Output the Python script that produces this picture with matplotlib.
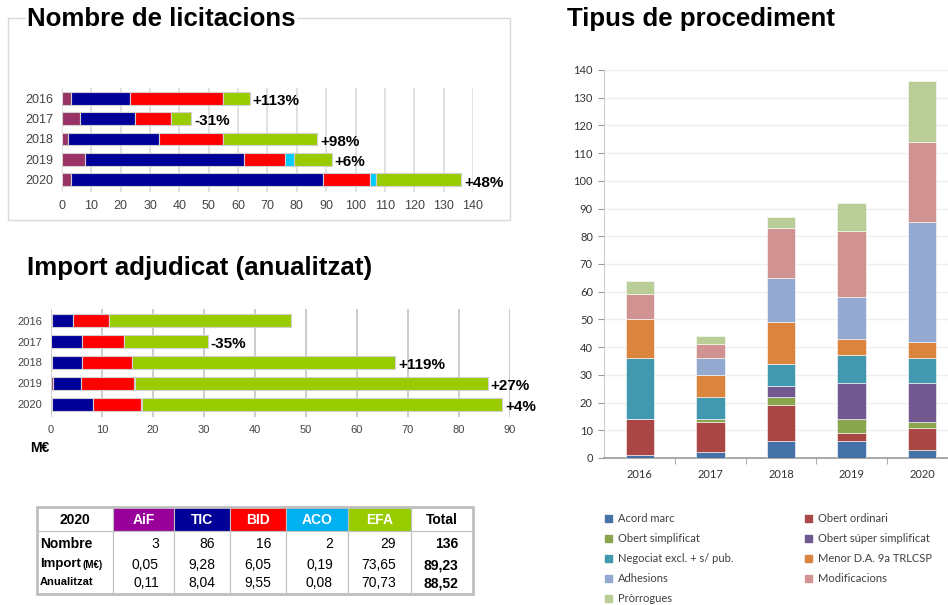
import matplotlib
matplotlib.use("Agg")
import matplotlib.pyplot as plt
from matplotlib.patches import Rectangle
import numpy as np

# Data
years = ["2016", "2017", "2018", "2019", "2020"]
groups = ["AiF", "TIC", "BID", "ACO", "EFA"]

# Nombre de licitacions
lic_aif = [3, 6, 2, 8, 3]
lic_tic = [20, 19, 31, 54, 86]
lic_bid = [32, 12, 22, 14, 16]
lic_aco = [0, 0, 0, 3, 2]
lic_efa = [9, 7, 32, 13, 29]
lic_pct = ["+113%", "-31%", "+98%", "+6%", "+48%"]

# Import adjudicat (anualitzat), M€
imp_aif = [0.1, 0.0, 0.1, 0.4, 0.11]
imp_tic = [4.2, 6.0, 5.9, 5.5, 8.04]
imp_bid = [7.0, 8.4, 9.8, 10.4, 9.55]
imp_aco = [0.0, 0.0, 0.0, 0.1, 0.08]
imp_efa = [35.8, 16.4, 51.7, 69.2, 70.73]
imp_pct = ["", "-35%", "+119%", "+27%", "+4%"]

# Tipus de procediment
proc_labels = ["Acord marc", "Obert ordinari", "Obert simplificat",
               "Obert súper simplificat", "Negociat excl. + s/ pub.",
               "Menor D.A. 9a TRLCSP", "Adhesions", "Modificacions",
               "Pròrrogues"]
acord = [1, 2, 6, 6, 3]
ordinari = [13, 11, 13, 3, 8]
simplificat = [0, 1, 3, 5, 2]
super_simpl = [0, 0, 4, 13, 14]
negociat = [22, 8, 8, 10, 9]
menor = [14, 8, 15, 6, 6]
adhesions = [0, 6, 16, 15, 43]
modificacions = [9, 5, 18, 24, 29]
prorrogues = [5, 3, 4, 10, 22]

# Taula 2020
tbl_nombre = [3, 86, 16, 2, 29]
tbl_import = [0.05, 9.28, 6.05, 0.19, 73.65]
tbl_anual = [0.11, 8.04, 9.55, 0.08, 70.73]
tbl_totals = [136, 89.23, 88.52]

# Colours
grp_colors = ["#993366", "#000099", "#ff0000", "#00ccff", "#99cc00"]
head_colors = ["#990099", "#000099", "#ff0000", "#00b0f0", "#99cc00"]
proc_colors = ["#4572a7", "#aa4643", "#89a54e", "#71588f", "#4198af",
               "#db843d", "#93a9cf", "#d19392", "#b9cd96"]

W, H = 948, 605
fig = plt.figure(figsize=(W / 100, H / 100), dpi=100)


def px_axes(x0, y0, x1, y1):
    return fig.add_axes([x0 / W, 1 - y1 / H, (x1 - x0) / W, (y1 - y0) / H])


# overlay in pixel coords (titles, box, table)
ov = px_axes(0, 0, W, H)
ov.set_xlim(0, W)
ov.set_ylim(H, 0)
ov.axis("off")

title_kw = dict(fontsize=18.6, fontweight="bold", family="Liberation Sans",
                va="center", ha="left")
ov.add_patch(Rectangle((8, 18), 502, 202, fill=False, ec="#d9d9d9", lw=1))
ov.text(27, 19, "Nombre de licitacions",
        bbox=dict(fc="white", ec="none", pad=1), **title_kw)
ov.text(27, 268, "Import adjudicat (anualitzat)", **title_kw)
ov.text(567, 19, "Tipus de procediment", **title_kw)
ov.text(30, 448, "M€", fontsize=10, fontweight="bold",
        family="Liberation Sans", va="center")


def hbar_chart(ax, series, pct, xmax, step, grid_color, tick_size):
    y = np.arange(len(years))
    left = np.zeros(len(years))
    for vals, col in zip(series, grp_colors):
        ax.barh(y, vals, left=left, height=0.62, color=col,
                edgecolor="#d0d0d0", linewidth=0.8, zorder=3)
        left += np.array(vals)
    for i, lab in enumerate(pct):
        if lab:
            ax.annotate(lab, (left[i], y[i]), xytext=(2, -2),
                        textcoords="offset points", va="center", ha="left",
                        fontsize=11, fontweight="bold",
                        family="Liberation Sans", annotation_clip=False)
    ax.set_xlim(0, xmax)
    ax.set_xticks(np.arange(0, xmax + 1, step))
    ax.set_yticks(y)
    ax.set_yticklabels(years)
    ax.grid(axis="x", color=grid_color, lw=1.2, zorder=0)
    ax.tick_params(length=0, labelsize=tick_size, colors="#444444", pad=6)
    for lbl in ax.get_xticklabels() + ax.get_yticklabels():
        lbl.set_family("Liberation Sans")
    for s in ax.spines.values():
        s.set_visible(False)
    ax.set_facecolor("none")


ax1 = px_axes(62, 88, 473, 192)
hbar_chart(ax1, [lic_aif, lic_tic, lic_bid, lic_aco, lic_efa], lic_pct,
           140, 10, "#dcdcdc", 9)
ax1.set_ylim(4.6, -0.5)

ax2 = px_axes(51, 309, 510, 417)
hbar_chart(ax2, [imp_aif, imp_tic, imp_bid, imp_aco, imp_efa], imp_pct,
           90, 10, "#c4c4c4", 8)
ax2.set_ylim(4.6, -0.55)

# Tipus de procediment
ax3 = px_axes(604, 70, 948, 458)
proc_series = [acord, ordinari, simplificat, super_simpl, negociat, menor,
               adhesions, modificacions, prorrogues]
x = np.arange(len(years))
bottom = np.zeros(len(years))
for vals, col in zip(proc_series, proc_colors):
    ax3.bar(x, vals, bottom=bottom, width=0.4, color=col,
            edgecolor="white", linewidth=0.4, zorder=3)
    bottom += np.array(vals)
ax3.set_xlim(-0.51, 4.37)
ax3.set_ylim(0, 140)
ax3.set_yticks(np.arange(0, 141, 10))
ax3.set_xticks(x)
ax3.set_xticklabels(years)
ax3.set_xticks(np.arange(0.5, 4.0, 1), minor=True)
ax3.grid(axis="y", color="#eeeeee", lw=1, zorder=0)
ax3.tick_params(axis="y", length=4, color="#999999", labelsize=8,
                labelcolor="#333333", pad=4)
ax3.tick_params(axis="x", which="major", length=0, labelsize=8,
                labelcolor="#333333", pad=8)
ax3.tick_params(axis="x", which="minor", length=4, color="#999999")
for lbl in ax3.get_xticklabels() + ax3.get_yticklabels():
    lbl.set_family("Lato")
for side in ["top", "right"]:
    ax3.spines[side].set_visible(False)
ax3.spines["left"].set_color("#cccccc")
ax3.spines["bottom"].set_color("#999999")
ax3.spines["bottom"].set_linewidth(1.2)
ax3.set_facecolor("none")

# legend (two columns, row-wise)
for i, (lab, col) in enumerate(zip(proc_labels, proc_colors)):
    r, c = divmod(i, 2)
    lx = 605 + c * 200
    ly = 518 + r * 20
    ov.add_patch(Rectangle((lx, ly - 3.5), 7, 7, color=col))
    ov.text(lx + 13, ly, lab, fontsize=8, family="Lato", color="#404040",
            va="center", ha="left")

# Table 2020
col_x = [37, 113, 174, 230, 286, 348, 411, 473]
top, head_bot, bot = 507, 531, 594
headers = ["2020"] + groups + ["Total"]
for j, lab in enumerate(headers):
    x0, x1 = col_x[j], col_x[j + 1]
    fc = head_colors[j - 1] if 1 <= j <= 5 else "white"
    tc = "white" if 1 <= j <= 5 else "black"
    ov.add_patch(Rectangle((x0, top), x1 - x0, head_bot - top, fc=fc,
                           ec="#bfbfbf", lw=0.8))
    ov.add_patch(Rectangle((x0, head_bot), x1 - x0, bot - head_bot,
                           fc="white", ec="#bfbfbf", lw=0.8))
    ov.text((x0 + x1) / 2, (top + head_bot) / 2 + 1, lab, fontsize=10,
            fontweight="bold", family="Liberation Sans", color=tc,
            ha="center", va="center")
ov.add_patch(Rectangle((col_x[0], top), col_x[-1] - col_x[0], bot - top,
                       fill=False, ec="#bfbfbf", lw=2))

row_y = [544, 564, 582]
ov.text(40, row_y[0], "Nombre", fontsize=10, fontweight="bold",
        family="Liberation Sans", va="center")
ov.text(40, row_y[1], "Import", fontsize=9.5, fontweight="bold",
        family="Liberation Sans", va="center")
ov.text(83, row_y[1] + 1, "(M€)", fontsize=7, fontweight="bold",
        family="Liberation Sans", va="center")
ov.text(40, row_y[2], "Anualitzat", fontsize=8, fontweight="bold",
        family="Liberation Sans", va="center")


def fmt(v):
    return f"{v:.2f}".replace(".", ",")


rows = [[str(v) for v in tbl_nombre] + [str(tbl_totals[0])],
        [fmt(v) for v in tbl_import] + [fmt(tbl_totals[1])],
        [fmt(v) for v in tbl_anual] + [fmt(tbl_totals[2])]]
for r, vals in enumerate(rows):
    for j, v in enumerate(vals):
        xr = col_x[j + 2] - 15
        ov.text(xr, row_y[r] + (1 if r else 0), v, fontsize=10,
                fontweight="bold" if j == 5 else "normal",
                family="Liberation Sans", ha="right", va="center")

fig.savefig("out.png", dpi=100, facecolor="white")
